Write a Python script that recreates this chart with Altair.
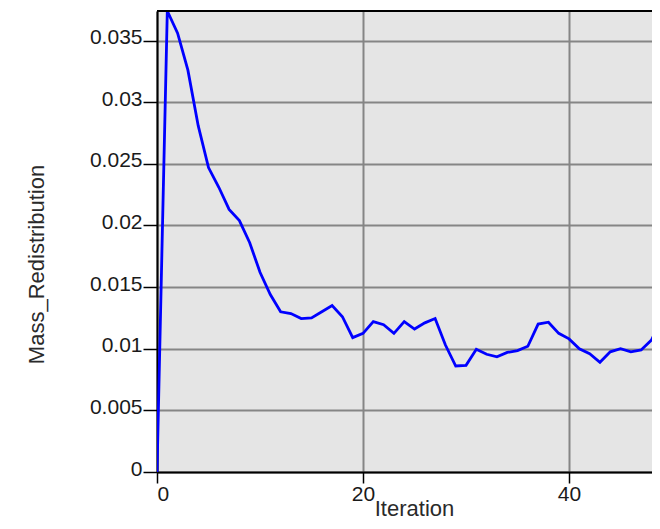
import altair as alt
import pandas as pd

iterations = list(range(0, 50))
mass_redistribution = [
    0.0, 37.4, 35.6, 32.6, 28.1, 24.7, 23.1, 21.3, 20.4, 18.6,
    16.2, 14.4, 13.0, 12.85, 12.45, 12.5, 13.0, 13.5, 12.6, 10.9,
    11.25, 12.2, 11.95, 11.25, 12.2, 11.6, 12.1, 12.45, 10.3, 8.6,
    8.65, 9.95, 9.55, 9.35, 9.7, 9.85, 10.2, 12.0, 12.15, 11.25,
    10.8, 10.0, 9.6, 8.9, 9.75, 10.0, 9.75, 9.9, 10.7, 12.4,
]
mass_redistribution = [v / 1000.0 for v in mass_redistribution]

y_ticks = [0, 0.005, 0.01, 0.015, 0.02, 0.025, 0.03, 0.035]
x_ticks = [0, 20, 40]

df = pd.DataFrame({"Iteration": iterations, "Mass_Redistribution": mass_redistribution})

W, H = 503, 461
FONT = "Liberation Sans"

line = alt.Chart(df).mark_line(color="#0000ff", strokeWidth=2.8, clip=True).encode(
    x=alt.X(
        "Iteration:Q",
        scale=alt.Scale(domain=[0, 48.83], nice=False, zero=False),
        axis=alt.Axis(
            values=x_ticks,
            format="d",
            tickSize=11,
            labelPadding=0,
            titleX=257,
            titleY=48,
            titleBaseline="bottom",
            titleAlign="center",
        ),
    ),
    y=alt.Y(
        "Mass_Redistribution:Q",
        scale=alt.Scale(domain=[0, 0.0374], nice=False),
        axis=alt.Axis(
            values=y_ticks,
            format="~g",
            tickSize=14,
            labelPadding=1,
            labelOffset=-3,
            titleX=-114,
            titleY=253,
            titleBaseline="alphabetic",
            titleAlign="center",
        ),
    ),
)

top_border = alt.Chart(df).mark_rule(color="#000000", strokeWidth=2).encode(
    x=alt.value(0), x2=alt.value(W), y=alt.value(0)
)

chart = (
    alt.layer(line, top_border)
    .properties(
        width=W,
        height=H,
        autosize=alt.AutoSizeParams(type="none"),
        padding={"left": 149, "top": 3, "right": -8, "bottom": 48},
        background="#ffffff",
    )
    .configure_view(fill="#e5e5e5", strokeWidth=0)
    .configure_axis(
        domainColor="#000000",
        domainWidth=2,
        tickColor="#000000",
        tickWidth=1.5,
        grid=True,
        gridColor="#858585",
        gridWidth=2,
        labelFont=FONT,
        labelFontSize=21,
        labelColor="#1a1a1a",
        titleFont=FONT,
        titleFontSize=22,
        titleFontWeight="normal",
        titleColor="#2a2a2a",
    )
)

chart.save("out.html", embed_options={"renderer": "svg", "actions": False})
